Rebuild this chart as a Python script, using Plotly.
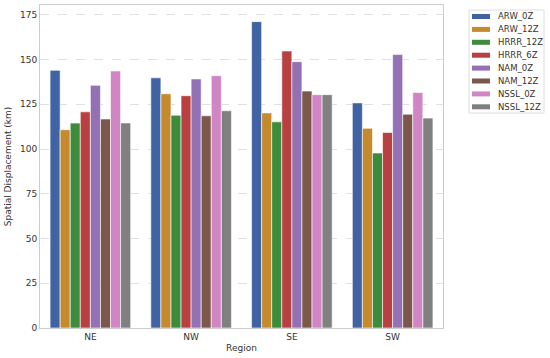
import plotly.graph_objects as go

regions = ["NE", "NW", "SE", "SW"]
models = ["ARW_0Z", "ARW_12Z", "HRRR_12Z", "HRRR_6Z", "NAM_0Z", "NAM_12Z", "NSSL_0Z", "NSSL_12Z"]
ARW_0Z = [144.0, 139.8, 171.2, 125.8]
ARW_12Z = [110.8, 130.9, 120.2, 111.6]
HRRR_12Z = [114.5, 118.9, 115.2, 97.8]
HRRR_6Z = [120.8, 129.8, 154.8, 109.3]
NAM_0Z = [135.6, 139.2, 148.8, 152.8]
NAM_12Z = [116.8, 118.6, 132.4, 119.5]
NSSL_0Z = [143.6, 141.0, 130.4, 131.6]
NSSL_12Z = [114.6, 121.4, 130.4, 117.3]
series = [ARW_0Z, ARW_12Z, HRRR_12Z, HRRR_6Z, NAM_0Z, NAM_12Z, NSSL_0Z, NSSL_12Z]
colors = ["#3f63a3", "#c68a2e", "#3c8c3c", "#b84040", "#9470b4", "#7c574c", "#d086c4", "#808080"]
y_ticks = [0, 25, 50, 75, 100, 125, 150, 175]

W, H = 550, 358
L, R, T, B = 40, 107, 5, 30
pw, ph = W - L - R, H - T - B

def px(x):
    return (x - L) / pw

def py(y):
    return (H - B - y) / ph

fig = go.Figure()
for name, vals, c in zip(models, series, colors):
    fig.add_trace(go.Bar(x=regions, y=vals, name=name, showlegend=False,
                         marker=dict(color=c, line=dict(color="white", width=0.6))))

# custom compact legend (matplotlib style)
shapes = [dict(type="rect", xref="paper", yref="paper", x0=px(469), x1=px(544), y0=py(113), y1=py(10),
               line=dict(color="#dddddd", width=1), fillcolor="white", layer="above")]
annotations = []
for i, (name, c) in enumerate(zip(models, colors)):
    yc = 16.5 + i * 12.9
    shapes.append(dict(type="rect", xref="paper", yref="paper", x0=px(472), x1=px(490),
                       y0=py(yc + 2.5), y1=py(yc - 2.5), line=dict(width=0), fillcolor=c, layer="above"))
    annotations.append(dict(xref="paper", yref="paper", x=px(496), y=py(yc), text=name, showarrow=False,
                            xanchor="left", yanchor="middle", font=dict(size=8.5, color="#333333")))

fig.update_layout(
    width=W, height=H,
    margin=dict(l=L, r=R, t=T, b=B, autoexpand=False),
    paper_bgcolor="white", plot_bgcolor="white",
    barmode="group", bargap=0.2, bargroupgap=0,
    font=dict(family="DejaVu Sans", size=9, color="#333333"),
    showlegend=False,
    shapes=shapes, annotations=annotations,
    xaxis=dict(title=dict(text="Region", font=dict(size=9), standoff=3),
               showline=True, linecolor="#cccccc", mirror=True, ticks="", showgrid=False),
    yaxis=dict(title=dict(text="Spatial Displacement (km)", font=dict(size=9), standoff=6),
               range=[0, 180.5], tickvals=y_ticks, showline=True, linecolor="#cccccc", mirror=True,
               showgrid=True, gridcolor="#e0e0e0", griddash="dash", gridwidth=0.8, zeroline=False),
)
fig.write_html("out.html", config={"displayModeBar": False},
               post_script="document.body.style.margin='0';")
